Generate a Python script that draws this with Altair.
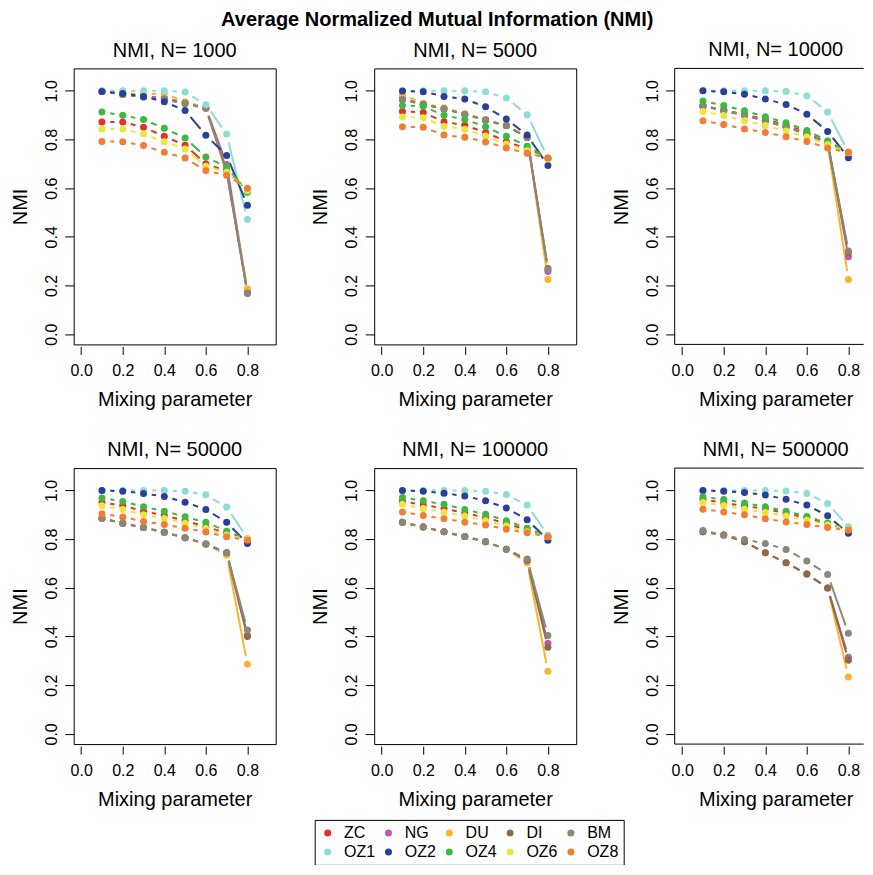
import math
import altair as alt
import pandas as pd

# ---------------- data ----------------
MIX = [0.1, 0.2, 0.3, 0.4, 0.5, 0.6, 0.7, 0.8]
SERIES = ["ZC", "NG", "DU", "DI", "BM", "OZ1", "OZ2", "OZ4", "OZ6", "OZ8"]
COLORS = ["#E3302A", "#C255B3", "#FBB52B", "#8B6B4E", "#8A8678",
          "#8EDCD6", "#2C3F98", "#3DB840", "#EBE63B", "#F47C33"]
N_LABELS = ["1000", "5000", "10000", "50000", "100000", "500000"]

NMI_1000 = {
    "ZC":  [0.872, 0.872, 0.850, 0.813, 0.776, 0.700, 0.670, 0.594],
    "NG":  [0.998, 0.990, 0.980, 0.970, 0.952, 0.930, 0.697, 0.175],
    "DU":  [0.998, 0.992, 0.985, 0.989, 0.955, 0.932, 0.660, 0.187],
    "DI":  [0.997, 0.985, 0.975, 0.966, 0.948, 0.928, 0.670, 0.168],
    "BM":  [0.997, 0.985, 0.975, 0.965, 0.948, 0.928, 0.675, 0.168],
    "OZ1": [1.000, 1.000, 1.000, 1.000, 0.995, 0.943, 0.822, 0.471],
    "OZ2": [0.997, 0.989, 0.977, 0.955, 0.919, 0.817, 0.734, 0.530],
    "OZ4": [0.913, 0.899, 0.882, 0.846, 0.806, 0.728, 0.687, 0.583],
    "OZ6": [0.843, 0.843, 0.822, 0.791, 0.761, 0.690, 0.665, 0.590],
    "OZ8": [0.792, 0.791, 0.775, 0.747, 0.724, 0.672, 0.653, 0.600],
}
NMI_5000 = {
    "ZC":  [0.915, 0.911, 0.873, 0.858, 0.829, 0.792, 0.761, 0.722],
    "NG":  [0.970, 0.945, 0.926, 0.904, 0.880, 0.857, 0.808, 0.258],
    "DU":  [0.984, 0.949, 0.930, 0.906, 0.882, 0.858, 0.810, 0.225],
    "DI":  [0.963, 0.944, 0.925, 0.903, 0.879, 0.856, 0.808, 0.270],
    "BM":  [0.963, 0.945, 0.926, 0.904, 0.880, 0.857, 0.810, 0.266],
    "OZ1": [1.000, 1.000, 1.000, 1.000, 0.996, 0.970, 0.902, 0.724],
    "OZ2": [0.999, 0.996, 0.977, 0.966, 0.934, 0.884, 0.818, 0.693],
    "OZ4": [0.940, 0.936, 0.899, 0.882, 0.852, 0.813, 0.772, 0.723],
    "OZ6": [0.892, 0.889, 0.854, 0.842, 0.814, 0.781, 0.754, 0.720],
    "OZ8": [0.852, 0.850, 0.818, 0.809, 0.790, 0.765, 0.743, 0.724],
}
NMI_10000 = {
    "ZC":  [0.936, 0.922, 0.902, 0.884, 0.858, 0.829, 0.785, 0.745],
    "NG":  [0.938, 0.919, 0.900, 0.877, 0.852, 0.822, 0.787, 0.318],
    "DU":  [0.940, 0.920, 0.900, 0.878, 0.853, 0.823, 0.780, 0.225],
    "DI":  [0.938, 0.918, 0.899, 0.876, 0.851, 0.821, 0.786, 0.335],
    "BM":  [0.939, 0.919, 0.900, 0.877, 0.852, 0.822, 0.788, 0.342],
    "OZ1": [1.000, 1.000, 1.000, 1.000, 0.997, 0.980, 0.913, 0.747],
    "OZ2": [1.000, 0.996, 0.986, 0.966, 0.944, 0.904, 0.833, 0.725],
    "OZ4": [0.958, 0.940, 0.918, 0.893, 0.869, 0.837, 0.794, 0.747],
    "OZ6": [0.915, 0.898, 0.877, 0.857, 0.835, 0.810, 0.779, 0.745],
    "OZ8": [0.877, 0.861, 0.843, 0.829, 0.811, 0.792, 0.765, 0.747],
}
NMI_50000 = {
    "ZC":  [0.951, 0.938, 0.915, 0.897, 0.876, 0.851, 0.824, 0.800],
    "NG":  [0.886, 0.865, 0.848, 0.828, 0.806, 0.780, 0.744, 0.405],
    "DU":  [0.886, 0.865, 0.848, 0.828, 0.806, 0.780, 0.735, 0.286],
    "DI":  [0.886, 0.865, 0.848, 0.828, 0.806, 0.780, 0.744, 0.400],
    "BM":  [0.886, 0.865, 0.848, 0.828, 0.806, 0.780, 0.744, 0.427],
    "OZ1": [1.000, 1.000, 1.000, 1.000, 0.997, 0.982, 0.932, 0.803],
    "OZ2": [1.000, 0.997, 0.988, 0.975, 0.952, 0.922, 0.869, 0.782],
    "OZ4": [0.969, 0.955, 0.933, 0.915, 0.892, 0.869, 0.833, 0.800],
    "OZ6": [0.937, 0.922, 0.900, 0.885, 0.865, 0.844, 0.817, 0.800],
    "OZ8": [0.904, 0.891, 0.873, 0.860, 0.845, 0.829, 0.810, 0.796],
}
NMI_100000 = {
    "ZC":  [0.955, 0.941, 0.926, 0.908, 0.888, 0.865, 0.837, 0.810],
    "NG":  [0.869, 0.850, 0.830, 0.811, 0.789, 0.759, 0.712, 0.372],
    "DU":  [0.869, 0.850, 0.830, 0.811, 0.789, 0.759, 0.703, 0.257],
    "DI":  [0.869, 0.850, 0.830, 0.811, 0.789, 0.759, 0.712, 0.356],
    "BM":  [0.869, 0.850, 0.830, 0.811, 0.789, 0.759, 0.718, 0.404],
    "OZ1": [1.000, 1.000, 1.000, 1.000, 0.997, 0.983, 0.940, 0.817],
    "OZ2": [1.000, 0.997, 0.989, 0.977, 0.958, 0.928, 0.880, 0.796],
    "OZ4": [0.971, 0.958, 0.943, 0.922, 0.902, 0.876, 0.845, 0.810],
    "OZ6": [0.943, 0.926, 0.911, 0.895, 0.876, 0.854, 0.830, 0.810],
    "OZ8": [0.912, 0.897, 0.884, 0.870, 0.858, 0.841, 0.826, 0.810],
}
NMI_500000 = {
    "ZC":  [0.963, 0.949, 0.936, 0.925, 0.906, 0.888, 0.862, 0.840],
    "NG":  [0.830, 0.817, 0.789, 0.744, 0.703, 0.657, 0.599, 0.315],
    "DU":  [0.830, 0.817, 0.789, 0.744, 0.703, 0.657, 0.599, 0.234],
    "DI":  [0.830, 0.817, 0.789, 0.744, 0.703, 0.657, 0.599, 0.302],
    "BM":  [0.836, 0.817, 0.799, 0.782, 0.758, 0.710, 0.655, 0.413],
    "OZ1": [1.000, 1.000, 1.000, 1.000, 0.998, 0.988, 0.947, 0.851],
    "OZ2": [1.000, 0.997, 0.992, 0.981, 0.964, 0.940, 0.896, 0.824],
    "OZ4": [0.974, 0.963, 0.949, 0.933, 0.915, 0.893, 0.866, 0.840],
    "OZ6": [0.951, 0.938, 0.923, 0.910, 0.895, 0.878, 0.858, 0.840],
    "OZ8": [0.923, 0.912, 0.900, 0.884, 0.871, 0.860, 0.848, 0.837],
}
PANELS = [NMI_1000, NMI_5000, NMI_10000, NMI_50000, NMI_100000, NMI_500000]

X_TICKS = [0.0, 0.2, 0.4, 0.6, 0.8]
Y_TICKS = [0.0, 0.2, 0.4, 0.6, 0.8, 1.0]

# ---------------- layout ----------------
FONT = "Liberation Sans"
PW, PH = 202, 276
PW_RIGHT = 189            # right column is cut by the page edge in the original
XDOM = [-0.036, 0.936]
YDOM = [-0.042, 1.092]
KX = PW / (XDOM[1] - XDOM[0])
KY = PH / (YDOM[1] - YDOM[0])
XDOM_RIGHT = [XDOM[0], XDOM[0] + PW_RIGHT / KX]
GAP = 8.3  # px gap around points (R type="b")

pts_rows, seg_rows = [], []
for n, d in zip(N_LABELS, PANELS):
    for s in SERIES:
        ys = d[s]
        for xv, yv in zip(MIX, ys):
            pts_rows.append({"N": n, "series": s, "x": xv, "y": yv})
        for i in range(len(MIX) - 1):
            x1, x2, y1, y2 = MIX[i], MIX[i + 1], ys[i], ys[i + 1]
            L = math.hypot((x2 - x1) * KX, (y2 - y1) * KY)
            if L <= 2 * GAP:
                continue
            t = GAP / L
            seg_rows.append({"N": n, "series": s,
                             "x": x1 + (x2 - x1) * t, "y": y1 + (y2 - y1) * t,
                             "x2": x2 - (x2 - x1) * t, "y2": y2 - (y2 - y1) * t})
pts = pd.DataFrame(pts_rows)
segs = pd.DataFrame(seg_rows)
frame_df = pd.DataFrame({"e": [0]})

color = alt.Color("series:N", scale=alt.Scale(domain=SERIES, range=COLORS),
                  sort=SERIES,
                  legend=alt.Legend(title=None, orient="none", legendX=241, legendY=751.5,
                                    direction="horizontal", columns=5,
                                    symbolType="circle", symbolSize=49, symbolStrokeWidth=0,
                                    labelFontSize=16, labelFont=FONT, labelColor="black",
                                    labelOffset=8.3, columnPadding=4.8, rowPadding=3,
                                    padding=5, strokeColor="black"))


def panel(n, right):
    w = PW_RIGHT if right else PW
    xs = alt.Scale(domain=XDOM_RIGHT if right else XDOM, nice=False, zero=False)
    ysc = alt.Scale(domain=YDOM, nice=False, zero=False)
    xax = alt.Axis(values=X_TICKS, format=".1f", title="Mixing parameter",
                   tickSize=8, offset=2, labelPadding=8, titlePadding=11,
                   titleX=PW / 2)
    yax = alt.Axis(values=Y_TICKS, format=".1f", title="NMI", labelAngle=270,
                   labelAlign="center", labelBaseline="bottom",
                   tickSize=9, labelPadding=5.4, titlePadding=13)
    lines = alt.Chart(segs[segs.N == n]).mark_rule(strokeWidth=2).encode(
        x=alt.X("x:Q", scale=xs, axis=xax),
        y=alt.Y("y:Q", scale=ysc, axis=yax),
        x2="x2:Q", y2="y2:Q", color=color)
    dots = alt.Chart(pts[pts.N == n]).mark_circle(size=49, opacity=1).encode(
        x=alt.X("x:Q", scale=xs), y=alt.Y("y:Q", scale=ysc), color=color)
    layers = [lines, dots]
    props = dict(width=w, height=PH,
                 title=alt.Title(f"NMI, N= {n}", fontSize=20, fontWeight="normal",
                                 baseline="alphabetic", offset=-8.2,
                                 dx=(PW - w) / 2))
    if right:
        fr = alt.Chart(frame_df).mark_rule(color="black", strokeWidth=1)
        layers += [
            fr.encode(x=alt.value(0), x2=alt.value(w), y=alt.value(0)),
            fr.encode(x=alt.value(0), x2=alt.value(w), y=alt.value(PH)),
            fr.encode(x=alt.value(0), y=alt.value(0), y2=alt.value(PH)),
        ]
        props["view"] = alt.ViewBackground(stroke="transparent")
    return alt.layer(*layers).properties(**props)


chart = alt.ConcatChart(
    concat=[panel(n, i % 3 == 2) for i, n in enumerate(N_LABELS)], columns=3,
    spacing={"row": 123.7, "column": 98.5}, bounds="flush",
    padding={"left": 1.7, "top": 1.4, "right": 0, "bottom": 0},
    title=alt.Title("Average Normalized Mutual Information (NMI)", fontSize=20,
                    fontWeight="bold", anchor="middle", baseline="alphabetic",
                    offset=-5.9, dx=0),
).resolve_scale(color="shared").configure_axis(
    labelFont=FONT, titleFont=FONT, labelFontSize=16, titleFontSize=20,
    titleFontWeight="normal", labelColor="black", titleColor="black",
    tickColor="black", domain=False, grid=False,
).configure_view(stroke="black", strokeWidth=1).configure_title(
    font=FONT, color="black")

chart.save("out.html", embed_options={"renderer": "svg", "actions": False})
